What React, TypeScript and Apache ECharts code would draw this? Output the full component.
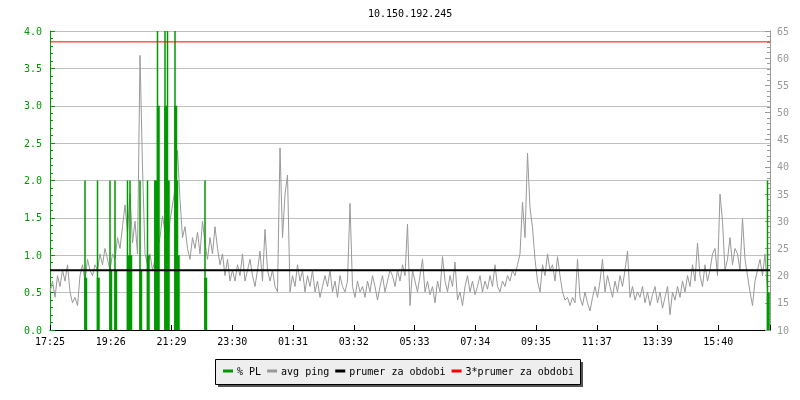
import { useEffect, useRef } from 'react';
import * as echarts from 'echarts';

const chartTitle = '10.150.192.245';
const tickLabels = ['17:25', '19:26', '21:29', '23:30', '01:31', '03:32', '05:33', '07:34', '09:35', '11:37', '13:39', '15:40'];
const sampleMinutes = 5;
const spanMinutes = 1440;
const tickMinutes = 121.5;

// avg ping (ms), one value every 5 minutes
const pingValues = [
  17, 19, 16, 20, 18, 21, 19, 22, 17, 15,
  16, 14.5, 20, 22, 19, 23, 21, 20, 22, 21,
  24, 22, 25, 23, 21, 24, 23, 27, 25, 29,
  33, 28, 35, 26, 30, 24, 60.5, 40, 24, 22,
  24, 21, 23, 25, 27, 31, 28, 25, 30, 33,
  36, 43, 34, 27, 29, 25, 23, 27, 25, 28,
  24, 30, 26, 23, 27, 24, 29, 25, 22, 24,
  20, 23, 19,
  21, 19, 22, 20, 24, 19, 21, 23, 20, 18,
  21, 24.5, 19, 28.5, 21, 19, 21, 18, 17, 43.5,
  27, 35, 38.5, 17, 20, 18, 22, 19, 21, 17,
  20, 18, 21, 17, 19, 16, 18, 20, 18, 21,
  17, 19, 16, 20, 18, 17, 19, 33.3, 18, 16,
  19, 17, 18, 16, 19, 17, 20, 18, 15.5, 18,
  20, 17, 19, 21, 20, 18, 21, 19, 22, 20,
  29.5, 14.5, 21,
  19, 17, 20, 23, 17, 19, 16.5, 18, 15, 19,
  17, 23.5, 19, 17, 20, 18, 22.5, 15.5, 17, 14.5,
  18, 20, 17, 19, 16.5, 18, 20, 17, 19, 17.5,
  20, 18, 22, 18, 17, 19, 18, 20, 19, 21,
  20, 22, 24, 33.5, 27, 42.5, 32.5, 28.8, 23, 19,
  17, 22, 20, 24, 21, 22, 19, 23.5, 20, 17,
  15.5, 16, 14.5, 16, 15, 23, 16, 14.5, 17, 15,
  13.5, 16,
  18, 16, 19, 23, 17, 20, 18, 16, 19, 17,
  20, 18, 21, 24.5, 16, 18, 15.5, 17, 16, 18,
  15, 17, 14.5, 16.5, 18, 15, 17, 14, 16, 18,
  12.8, 17, 15.5, 18, 16, 19, 17, 20, 18, 22,
  19, 26, 20, 18, 22, 19, 21, 24, 25, 20,
  35, 30, 21, 23, 27, 22, 25, 24, 21, 30.5,
  23, 20, 17, 14.5, 19, 21, 23, 20, 24, 17,
];

// packet loss (%): sample index, base block value, spike value
const plIndex = [14, 19, 24, 26, 31, 32, 36, 39, 42, 43, 46, 47, 50, 51, 62, 287];
const plBlock = [0.7, 0.7, 0.8, 0.8, 1.0, 1.0, 0.8, 1.0, 2.0, 3.0, 3.0, 2.0, 3.0, 1.0, 0.7, 0.5];
const plSpike = [2, 2, 2, 2, 2, 2, 2, 2, 2, 4, 4, 4, 4, 2, 2, 2];

const periodAvg = 21.0;

const MONO = '"DejaVu Sans Mono", monospace';
const GREEN = '#009900';
const GRAY = '#999999';
const GRID = '#c0c0c0';

export default function App() {
  const ref = useRef<HTMLDivElement>(null);
  useEffect(() => {
    const chart = echarts.init(ref.current!, undefined, { renderer: 'svg' });
    const pingData = pingValues.map((v, i) => [i * sampleMinutes, v]);
    const plBlockData = plIndex.map((idx, k) => [idx * sampleMinutes, plBlock[k]]);
    const plSpikeData = plIndex.map((idx, k) => [idx * sampleMinutes, plSpike[k]]);
    const option: any = {
      animation: false,
      title: {
        text: chartTitle,
        left: 368,
        top: 8,
        padding: 0,
        textStyle: { fontFamily: MONO, fontSize: 10, fontWeight: 'normal', color: '#000' },
      },
      graphic: [
        { type: 'rect', shape: { x: 218, y: 362, width: 365, height: 25 }, style: { fill: '#555' }, z: 0 },
        { type: 'rect', shape: { x: 215.5, y: 359.5, width: 365, height: 25 }, style: { fill: '#eeeeee', stroke: '#000', lineWidth: 1 }, z: 0 },
      ],
      legend: {
        data: ['% PL', 'avg ping', 'prumer za obdobi', '3*prumer za obdobi'],
        left: 223,
        top: 366,
        padding: 0,
        itemGap: 6,
        itemWidth: 10,
        itemHeight: 3,
        icon: 'rect',
        z: 10,
        textStyle: { fontFamily: MONO, fontSize: 10, color: '#000', padding: [0, 0, 0, -1] },
      },
      grid: { left: 50, right: 30, top: 31, bottom: 70, containLabel: false },
      xAxis: {
        type: 'value',
        min: 0,
        max: spanMinutes,
        interval: tickMinutes,
        axisLine: { show: true, lineStyle: { color: '#000', width: 1 } },
        axisTick: { show: true, inside: true, length: 5, lineStyle: { color: '#000' } },
        splitLine: { show: false },
        axisLabel: {
          color: '#000',
          fontFamily: MONO,
          fontSize: 10,
          margin: 6,
          formatter: (val: number) => {
            const k = Math.round(val / tickMinutes);
            if (Math.abs(val - k * tickMinutes) > 0.01) return '';
            return tickLabels[k] ?? '';
          },
        },
      },
      yAxis: [
        {
          type: 'value',
          position: 'left',
          min: 0,
          max: 4,
          interval: 0.5,
          axisLine: { show: true, lineStyle: { color: GREEN, width: 1 } },
          axisTick: { show: true, inside: true, length: 5, lineStyle: { color: GREEN } },
          minorTick: { show: true, splitNumber: 5, length: 3, lineStyle: { color: GREEN } },
          splitLine: { show: true, lineStyle: { color: GRID, width: 1 } },
          axisLabel: {
            color: GREEN,
            fontFamily: MONO,
            fontSize: 10,
            margin: 8,
            formatter: (v: number) => v.toFixed(1),
          },
        },
        {
          type: 'value',
          position: 'right',
          min: 10,
          max: 65,
          interval: 5,
          axisLine: { show: true, lineStyle: { color: GRAY, width: 1 } },
          axisTick: { show: true, inside: true, length: 5, lineStyle: { color: GRAY } },
          minorTick: { show: true, splitNumber: 5, length: 3, lineStyle: { color: GRAY } },
          splitLine: { show: false },
          axisLabel: { color: GRAY, fontFamily: MONO, fontSize: 10, margin: 7 },
        },
      ],
      series: [
        {
          name: 'avg ping',
          type: 'line',
          yAxisIndex: 1,
          data: pingData,
          showSymbol: false,
          symbol: 'none',
          itemStyle: { color: GRAY },
          lineStyle: { color: GRAY, width: 1 },
          z: 2,
        },
        {
          name: '% PL',
          type: 'bar',
          yAxisIndex: 0,
          data: plBlockData,
          barWidth: 3,
          barGap: '-100%',
          itemStyle: { color: GREEN },
          z: 3,
        },
        {
          name: '% PL',
          type: 'bar',
          yAxisIndex: 0,
          data: plSpikeData,
          barWidth: 1.5,
          barGap: '-100%',
          itemStyle: { color: GREEN },
          z: 3,
        },
        {
          name: 'prumer za obdobi',
          type: 'line',
          yAxisIndex: 1,
          data: [[0, periodAvg], [spanMinutes, periodAvg]],
          showSymbol: false,
          symbol: 'none',
          itemStyle: { color: '#000' },
          lineStyle: { color: '#000', width: 2 },
          z: 4,
        },
        {
          name: '3*prumer za obdobi',
          type: 'line',
          yAxisIndex: 1,
          data: [[0, 3 * periodAvg], [spanMinutes, 3 * periodAvg]],
          showSymbol: false,
          symbol: 'none',
          itemStyle: { color: '#ff0000' },
          lineStyle: { color: '#ff0000', width: 1 },
          z: 4,
        },
      ],
    };
    chart.setOption(option);
    return () => chart.dispose();
  }, []);
  return <div ref={ref} style={{ position: 'fixed', left: 0, top: 0, width: 800, height: 400 }} />;
}
